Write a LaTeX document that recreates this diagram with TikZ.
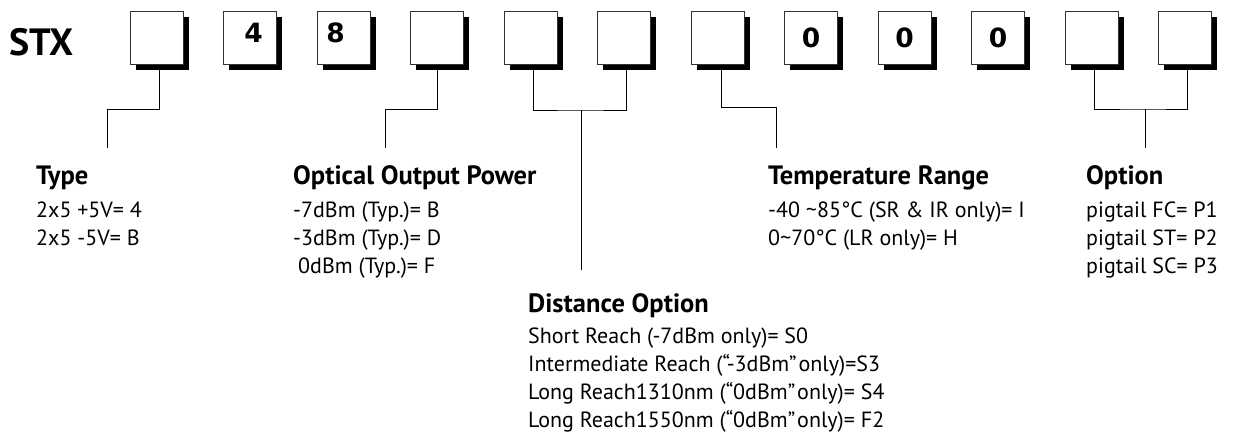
\documentclass[tikz,border=0pt]{standalone}
\usepackage{fontspec}
\setmainfont{PT Sans}
\newfontfamily\digitfont{DejaVu Sans}
\usetikzlibrary{calc}
\begin{document}
\begin{tikzpicture}[x=1pt,y=-1pt,
  box/.style={draw=black!80, line width=0.8pt, fill=white, minimum width=53pt, minimum height=53pt, inner sep=0pt, outer sep=0pt},
  shadowbox/.style={fill=black, minimum width=53pt, minimum height=53pt, inner sep=0pt, outer sep=0pt},
  digit/.style={font=\digitfont\bfseries\fontsize{26.5}{27}\selectfont, inner sep=0pt, anchor=base},
  conn/.style={line width=1pt},
  head/.style={font=\bfseries\fontsize{26.5}{28}\selectfont, anchor=base west, inner sep=0pt},
  body/.style={font=\fontsize{22}{28}\selectfont, anchor=base west, inner sep=0pt}]
\useasboundingbox (0,0) rectangle (1233,434);
\node[font=\bfseries\fontsize{38}{38}\selectfont, anchor=base west, inner sep=0pt] (stx) at (9,55) {STX};
\foreach \i in {0,...,11} {
  \node[shadowbox] (s\i) at (162+93.5*\i, 43.5) {};
  \node[box] (b\i) at (156.5+93.5*\i, 37.5) {};
}
\node[digit] (d1) at ($(b1.center)+(3.5,5)$) {4};
\node[digit] (d2) at ($(b2.center)+(-8,5)$) {8};
\node[digit] (d7) at ($(b7.center)+(0,9.5)$) {0};
\node[digit] (d8) at ($(b8.center)+(0,9.5)$) {0};
\node[digit] (d9) at ($(b9.center)+(0,9.5)$) {0};
% connectors
\coordinate (k1) at (107,109); \coordinate (e1) at (107,148);
\draw[conn] ([xshift=-3pt]s0.south) |- (k1) -- (e1);
\coordinate (k2) at (385,109); \coordinate (e2) at (385,148);
\draw[conn] ([xshift=-5pt]s3.south) |- (k2) -- (e2);
\coordinate (j3) at (581,110); \coordinate (e3) at (581,270);
\draw[conn] ([xshift=-3pt]s4.south) |- (j3) -| ([xshift=-3pt]s5.south);
\draw[conn] (j3) -- (e3);
\coordinate (k4) at (776,107); \coordinate (e4) at (776,148);
\draw[conn] ([xshift=-2pt]s6.south) |- (k4) -- (e4);
\coordinate (j5) at (1145,109); \coordinate (e5) at (1145,148);
\draw[conn] ([xshift=-3pt]s10.south) |- (j5) -| ([xshift=-3pt]s11.south);
\draw[conn] (j5) -- (e5);
% Type
\node[head] (th) at (36,184) {Type};
\node[body] (t1) at (36,217) {2x5 +5V= 4};
\node[body] (t2) at (36,245) {2x5 -5V= B};
% Optical
\node[head] (oh) at (293,184) {Optical Output Power};
\node[body] (o1) at (293,217) {-7dBm (Typ.)= B};
\node[body] (o2) at (293,245) {-3dBm (Typ.)= D};
\node[body] (o3) at (298,273) {0dBm (Typ.)= F};
% Distance
\node[head] (dh) at (528,312) {Distance Option};
\node[body] (ds1) at (528,343) {Short Reach (-7dBm only)= S0};
\node[body] (ds2) at (528,371) {Intermediate Reach (“-3dBm”\hspace{2pt}only)=S3};
\node[body] (ds3) at (528,399) {Long Reach1310nm (“0dBm”\hspace{2pt}only)= S4};
\node[body] (ds4) at (528,427) {Long Reach1550nm (“0dBm”\hspace{2pt}only)= F2};
% Temperature
\node[head] (mh) at (768,184) {Temperature Range};
\node[body] (m1) at (768,217) {-40 \textasciitilde85°C (SR \& IR only)= I};
\node[body] (m2) at (768,245) {0\textasciitilde70°C (LR only)= H};
% Option
\node[head] (ph) at (1086,184) {Option};
\node[body] (p1) at (1086,217) {pigtail FC= P1};
\node[body] (p2) at (1086,245) {pigtail ST= P2};
\node[body] (p3) at (1086,273) {pigtail SC= P3};
\end{tikzpicture}
\end{document}
